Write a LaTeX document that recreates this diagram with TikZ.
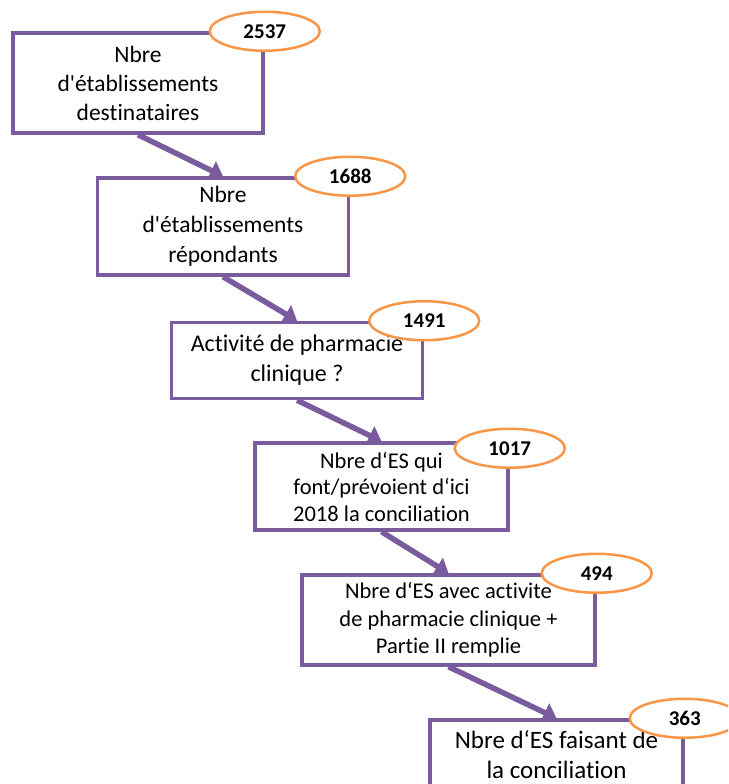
\documentclass[tikz,border=0pt]{standalone}
\usepackage{fontspec}
\setmainfont{Carlito}[Ligatures=NoCommon]
\usepackage{tikz}
\usetikzlibrary{shapes.geometric,arrows.meta}
\definecolor{boxpurple}{HTML}{7A5C9E}
\definecolor{countorange}{HTML}{F79646}

\begin{document}
\begin{tikzpicture}[x=1pt,y=-1pt,
  box/.style={shape=rectangle,draw=boxpurple,line width=3.5pt,fill=white,inner sep=0pt,align=center,text=black},
  count/.style={shape=ellipse,draw=countorange,line width=2.5pt,fill=white,inner sep=0pt,minimum width=110pt,minimum height=39pt,text=black,font=\fontsize{21}{25}\selectfont\bfseries},
  flow/.style={draw=boxpurple,line width=5.5pt,-{Triangle[width=20pt,length=13pt]}}]
\clip (0,0) rectangle (728,784);
\node[box,minimum width=250pt,minimum height=100pt,font=\fontsize{23.5}{29}\selectfont] (B1) at (138,83) {Nbre\\d\textquotesingle établissements\\destinataires};
\node[box,minimum width=251pt,minimum height=97pt,font=\fontsize{23.5}{30}\selectfont] (B2) at (223,226.5) {Nbre\\d\textquotesingle établissements\\répondants};
\node[box,minimum width=251pt,minimum height=76pt,font=\fontsize{24}{30}\selectfont] (B3) at (297,360.5) {Activité de pharmacie\\clinique ?};
\node[box,minimum width=253pt,minimum height=87pt,font=\fontsize{22.5}{26.5}\selectfont] (B4) at (381.5,486.5) {Nbre d‘ES qui\\font/prévoient d‘ici\\2018 la conciliation};
\node[box,minimum width=293pt,minimum height=90pt,font=\fontsize{22.5}{27.5}\selectfont] (B5) at (448.5,620) {Nbre d‘ES avec activite\\de pharmacie clinique +\\Partie II remplie};
\node[box,minimum width=253pt,minimum height=70pt,font=\fontsize{25}{30}\selectfont] (B6) at (556.5,755) {Nbre d‘ES faisant de\\la conciliation};
% liens entre les etapes
\path[flow] (B1.south) -- (B2.north);
\path[flow] (B2.south) -- (B3.north);
\path[flow] (B3.south) -- (B4.north);
\path[flow] (B4.south) -- (B5.north);
\path[flow] (B5.south) -- (B6.north);
% effectifs
\node[count] (N1) at (B1.north east) {2537};
\node[count] (N2) at (B2.north east) {1688};
\node[count] (N3) at (B3.north east) {1491};
\node[count] (N4) at ([yshift=-7pt]B4.north east) {1017};
\node[count] (N5) at (B5.north east) {494};
\node[count] (N6) at (B6.north east) {363};
\end{tikzpicture}
\end{document}
